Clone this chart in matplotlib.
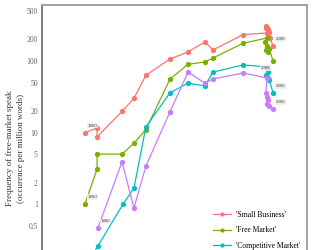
import matplotlib
matplotlib.use("Agg")
import matplotlib.pyplot as plt
from matplotlib.ticker import FixedLocator, NullLocator

plt.rcParams["font.family"] = ["Liberation Serif", "DejaVu Serif"]

# x position of each point (arbitrary index units, axis not visible) and frequency
sb_x = [16.2, 20.8, 20.8, 30.2, 34.7, 39.2, 48.3, 55.1, 61.5, 64.5, 75.8, 84.9,
        84.5, 84.5, 85.3, 85.7, 85.3, 86.0, 87.2]
sb_y = [10.0, 11.5, 8.7, 19.8, 30, 63, 107, 134, 185, 143, 233, 247,
        289, 308, 280, 255, 231, 210, 162]

fm_x = [16.2, 20.8, 20.8, 30.2, 34.7, 39.2, 48.3, 55.1, 61.5, 64.5, 75.8, 84.9,
        84.2, 85.0, 84.5, 85.3, 85.7, 87.2]
fm_y = [1.0, 3.1, 5.0, 5.0, 7.1, 11, 56, 90, 97, 110, 177, 210,
        184, 162, 142, 133, 147, 100]

cm_x = [16.2, 21.1, 30.6, 34.7, 39.2, 48.3, 55.1, 61.5, 64.5, 75.8, 84.9,
        85.0, 85.3, 84.5, 85.3, 85.7, 87.2]
cm_y = [0.13, 0.26, 1.0, 1.67, 12, 36, 49, 45, 70, 88, 83,
        80, 70, 63, 58, 54, 36]

fe_x = [21.1, 30.2, 34.7, 39.2, 48.3, 55.1, 61.5, 64.5, 75.8, 84.9,
        84.5, 85.0, 85.3, 84.8, 85.6, 87.2]
fe_y = [0.46, 3.9, 0.88, 3.4, 19.5, 70, 49, 56, 68, 58,
        36, 31, 28.5, 25, 23.5, 21.3]

# name, x, y, colour, start label, end-label offset, end-label alignment
series = [
    ("'Small Business'", sb_x, sb_y, "#F8766D", "1860", (2, 5), "left"),
    ("'Free Market'", fm_x, fm_y, "#7CAE00", "1860", (-2, -5), "right"),
    ("'Competitive Market'", cm_x, cm_y, "#00BFC4", None, (2, 5), "left"),
    ("'Free Enterprise'", fe_x, fe_y, "#C77CFF", "1880", (2, 5), "left"),
]

yticks = [0.5, 1, 2, 5, 10, 20, 50, 100, 200, 500]
ytick_labels = ["0.5", "1", "2", "5", "10", "20", "50", "100", "200", "500"]

fig = plt.figure(figsize=(3.13, 2.5), dpi=100)
ax = fig.add_axes([0.134, -0.164, 0.847, 1.144])

label_box = dict(boxstyle="square,pad=0.15", facecolor="#eeeeee", edgecolor="none", alpha=0.9)

for name, xs, ys, color, start, off_e, ha_e in series:
    ax.plot(xs, ys, color=color, linewidth=0.9, marker="o", markersize=3.8,
            markeredgewidth=0, label=name)
    if start:
        ax.annotate(start, (xs[0], ys[0]), xytext=(2, 5), textcoords="offset points",
                    fontsize=3.5, color="#444444", ha="left", va="center", bbox=label_box)
    ax.annotate("2008", (xs[-1], ys[-1]), xytext=off_e, textcoords="offset points",
                fontsize=3.5, color="#444444", ha=ha_e, va="center", bbox=label_box)

ax.set_yscale("log")
ax.set_ylim(0.061, 607)
ax.set_xlim(0, 100)
ax.yaxis.set_major_locator(FixedLocator(yticks))
ax.yaxis.set_minor_locator(NullLocator())
ax.set_yticklabels(ytick_labels)
ax.xaxis.set_major_locator(NullLocator())
ax.tick_params(axis="y", length=0, pad=3, labelsize=5.5, labelcolor="#666666")

ax.set_ylabel("Frequency of free-market speak\n(occurence per million words)",
              fontsize=6.5, color="#333333", linespacing=1.45)
ax.yaxis.set_label_coords(-0.065, 0.5)

for side, spine in ax.spines.items():
    spine.set_color("#a0a0a0")
    spine.set_linewidth(1.4)
ax.spines["left"].set_color("#808080")

ax.legend(loc="upper left", bbox_to_anchor=(0.68, 0.156), bbox_transform=fig.transFigure,
          frameon=False, fontsize=5.5, handlelength=2.4, handletextpad=0.6,
          labelspacing=0.95, borderpad=0, borderaxespad=0, markerscale=0.8)

fig.savefig("out.png", dpi=100)
